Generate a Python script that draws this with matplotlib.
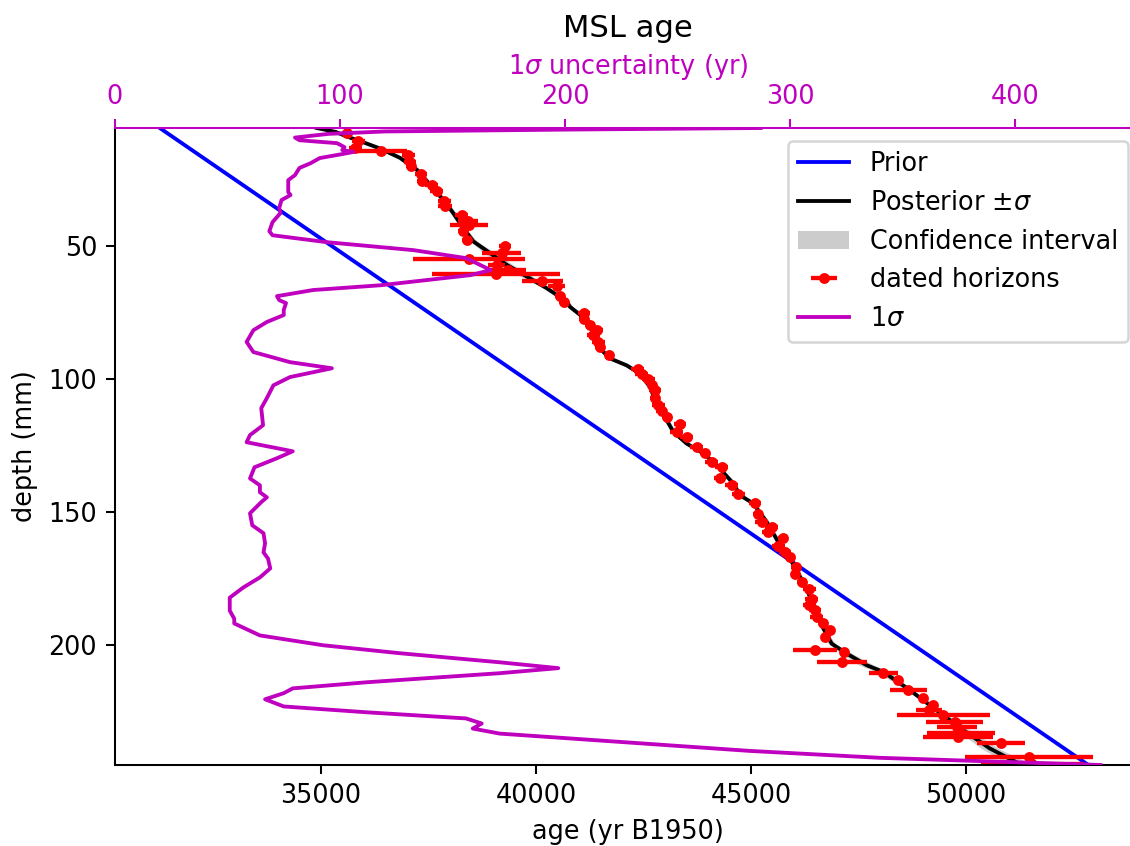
import numpy as np
import matplotlib
matplotlib.use('Agg')
import matplotlib.pyplot as plt

# ---------------- data ----------------
prior_depth = [5.6, 245.0]
prior_age = [31250, 52850]

post_depth = [5.6, 7.1, 8.8, 10.5, 13.3, 16.8, 21.2, 26.9, 32.6, 37.6, 43.2, 48.2,
              52.6, 57.0, 61.4, 65.8, 70.8, 72.8, 77.8, 84.1, 89.1, 92.2, 94.8,
              97.9, 102.9, 109.1, 115.4, 119.8, 124.2, 127.9, 132.3, 139.2, 143.6,
              146.7, 153.6, 161.2, 167.4, 173.1, 178.7, 186.8, 193.7, 199.4, 203.1,
              207.5, 210.0, 216.9, 224.4, 231.9, 238.8, 245.0]
post_age = [34900, 35350, 35600, 35907, 36372, 36837, 37226, 37535, 37845, 38078,
            38310, 38543, 38931, 39319, 39784, 40250, 40715, 40792, 41180, 41413,
            41529, 41722, 42110, 42420, 42653, 42808, 43041, 43196, 43506, 43893,
            44204, 44591, 44745, 45055, 45366, 45637, 45909, 46103, 46297, 46491,
            46685, 46879, 47228, 47693, 48080, 48700, 49320, 49940, 50560, 51300]
post_sigma = [120, 100, 80, 90, 95, 85, 75, 70, 68, 68, 65, 85, 130, 150, 140, 80,
              65, 65, 60, 55, 58, 70, 85, 72, 65, 62, 62, 56, 62, 68, 58, 60, 62,
              60, 58, 62, 64, 62, 52, 48, 50, 80, 120, 170, 160, 70, 90, 150, 200,
              250]

dated_depth = [7.4, 10.4, 13.2, 14.2, 15.9, 18.2, 20.0, 22.9, 25.7, 27.0, 29.2,
               33.0, 35.1, 38.4, 40.5, 42.1, 44.2, 47.7, 50.0, 52.7, 55.0, 57.1,
               59.0, 60.5, 63.0, 65.0, 68.9, 71.0, 75.3, 77.2, 79.7, 81.6, 83.5,
               86.0, 87.9, 91.0, 96.0, 97.9, 99.8, 102.3, 104.1, 106.9, 109.8,
               111.9, 114.2, 116.7, 119.8, 121.7, 125.5, 127.9, 131.1, 133.0,
               137.3, 139.8, 143.0, 146.7, 150.5, 153.6, 155.5, 157.4, 159.6,
               162.8, 164.9, 166.8, 170.6, 173.1, 176.2, 178.7, 182.5, 185.0,
               186.8, 189.4, 191.8, 194.4, 196.9, 201.9, 202.5, 206.3, 210.6,
               213.2, 216.9, 219.7, 222.6, 224.4, 226.3, 228.8, 230.7, 232.9,
               234.4, 236.9, 242.0, 244.6]
dated_age = [35598, 35868, 35800, 36396, 37031, 37070, 37086, 37326, 37342, 37575,
             37691, 37868, 37884, 38273, 38426, 38442, 38310, 38389, 39280, 39202,
             38438, 39087, 39350, 39066, 40152, 40480, 40559, 40652, 41117, 41117,
             41257, 41412, 41334, 41451, 41490, 41707, 42366, 42459, 42614, 42692,
             42769, 42769, 42847, 42924, 43041, 43351, 43273, 43506, 43739, 43932,
             44088, 44320, 44281, 44553, 44708, 45095, 45173, 45251, 45483, 45405,
             45754, 45637, 45793, 45909, 46049, 46025, 46181, 46358, 46414, 46358,
             46491, 46530, 46685, 46840, 46723, 46491, 47172, 47111, 48080, 48429,
             48661, 49010, 49243, 49149, 49479, 49740, 49800, 49882, 49824, 50812,
             51468, 51550]
dated_err = [120, 150, 150, 605, 150, 150, 100, 150, 120, 150, 150, 150, 170, 150,
             230, 442, 120, 100, 150, 445, 1300, 200, 426, 1490, 485, 195, 120, 120,
             150, 120, 120, 150, 150, 150, 120, 100, 150, 150, 150, 120, 150, 120,
             150, 120, 120, 150, 150, 150, 150, 120, 150, 150, 150, 150, 150, 150,
             120, 150, 150, 150, 120, 150, 150, 120, 120, 100, 100, 150, 150, 150,
             150, 150, 120, 100, 100, 523, 100, 581, 337, 100, 426, 100, 100, 302,
             1077, 667, 465, 795, 815, 560, 1490, 1200]

sigma_depth = [5.6, 6.2, 6.9, 7.8, 9.2, 10.2, 11.3, 12.8, 13.9, 14.6, 15.4, 16.9,
               18.8, 20.6, 23.3, 25.2, 29.7, 30.8, 32.7, 35.7, 37.6, 41.0, 44.4,
               45.9, 48.5, 51.5, 54.5, 59.0, 60.9, 64.7, 66.5, 68.8, 70.3, 71.4,
               74.0, 75.9, 78.5, 81.6, 86.0, 89.8, 93.6, 95.9, 99.2, 102.3, 107.1,
               110.9, 117.3, 121.0, 123.7, 127.1, 129.7, 133.1, 137.3, 139.9, 142.5,
               144.4, 146.2, 150.4, 154.9, 157.9, 161.7, 165.1, 167.4, 171.1, 174.5,
               178.3, 182.1, 187.0, 190.0, 191.8, 196.3, 200.0, 203.0, 206.4, 208.6,
               210.5, 213.9, 216.2, 218.0, 220.3, 223.0, 225.2, 227.5, 229.4, 231.3,
               233.2, 235.8, 239.7, 242.3, 245.0]
sigma_value = [287, 200, 120, 95, 80, 82, 98.7, 102, 101, 106, 101, 91, 87, 82, 80,
               77, 77, 78, 74, 73, 73.5, 70, 68.6, 70, 94, 132.6, 156, 167, 158, 118,
               88, 72, 73, 76, 75, 75, 67.5, 61.5, 58.5, 61.5, 77.8, 96.4, 77.8, 70.4,
               67.5, 65, 65.8, 60, 58.5, 79, 72, 62, 60, 64.4, 64.4, 67.5, 65, 60, 61,
               66, 66.7, 66, 68, 69, 64.4, 57, 51, 51, 53, 53, 64.4, 92.5, 126.7, 171,
               197, 171, 112, 79, 75, 66.7, 75, 112, 156, 163, 159, 171, 215.6, 282,
               340, 438]

age_ticks = [35000, 40000, 45000, 50000]
depth_ticks = [50, 100, 150, 200]
sigma_ticks = [0, 100, 200, 300, 400]

# ---------------- figure ----------------
DPI = 184
fig = plt.figure(figsize=(1130 / DPI, 846 / DPI), dpi=DPI)
# axes extends slightly past the right edge of the (cropped) image
ax = fig.add_axes([115 / 1130, 81 / 846, 1026 / 1130, 637 / 846])

ax.plot(prior_age, prior_depth, color='b', lw=1.5, label='Prior')
lo = np.array(post_age) - np.array(post_sigma)
hi = np.array(post_age) + np.array(post_sigma)
ax.fill_betweenx(post_depth, lo, hi, color='0.8', lw=0, label='Confidence interval')
ax.plot(post_age, post_depth, color='k', lw=1.5, label=r'Posterior $\pm\sigma$')
ax.errorbar(dated_age, dated_depth, xerr=dated_err, fmt='.', color='r',
            elinewidth=1.7, markersize=6.5, label='dated horizons')

ax.set_xlim(30209, 54074)
ax.set_ylim(245, 5.6)
ax.set_xticks(age_ticks)
ax.set_yticks(depth_ticks)
ax.set_xlabel('age (yr B1950)')
ax.set_ylabel('depth (mm)')
ax.spines['right'].set_visible(False)
ax.spines['top'].set_visible(False)

ax2 = ax.twiny()
ax2.plot(sigma_value, sigma_depth, color='m', lw=1.5, label=r'1$\sigma$')
ax2.set_xlim(0, 456)
ax2.set_ylim(245, 5.6)
ax2.set_xticks(sigma_ticks)
ax2.set_xlabel(r'1$\sigma$ uncertainty (yr)', color='m')
ax2.tick_params(axis='x', colors='m')
for s in ['left', 'right', 'bottom']:
    ax2.spines[s].set_visible(False)
ax2.spines['top'].set_color('m')

ax2.set_title('MSL age', fontsize=12)

h1, l1 = ax.get_legend_handles_labels()
h2, l2 = ax2.get_legend_handles_labels()
order = ['Prior', r'Posterior $\pm\sigma$', 'Confidence interval', 'dated horizons']
hd = dict(zip(l1, h1))
handles = [hd[k] for k in order] + h2
labels = order + l2
ax2.legend(handles, labels, loc='upper right')

fig.savefig('out.png', dpi=DPI)
